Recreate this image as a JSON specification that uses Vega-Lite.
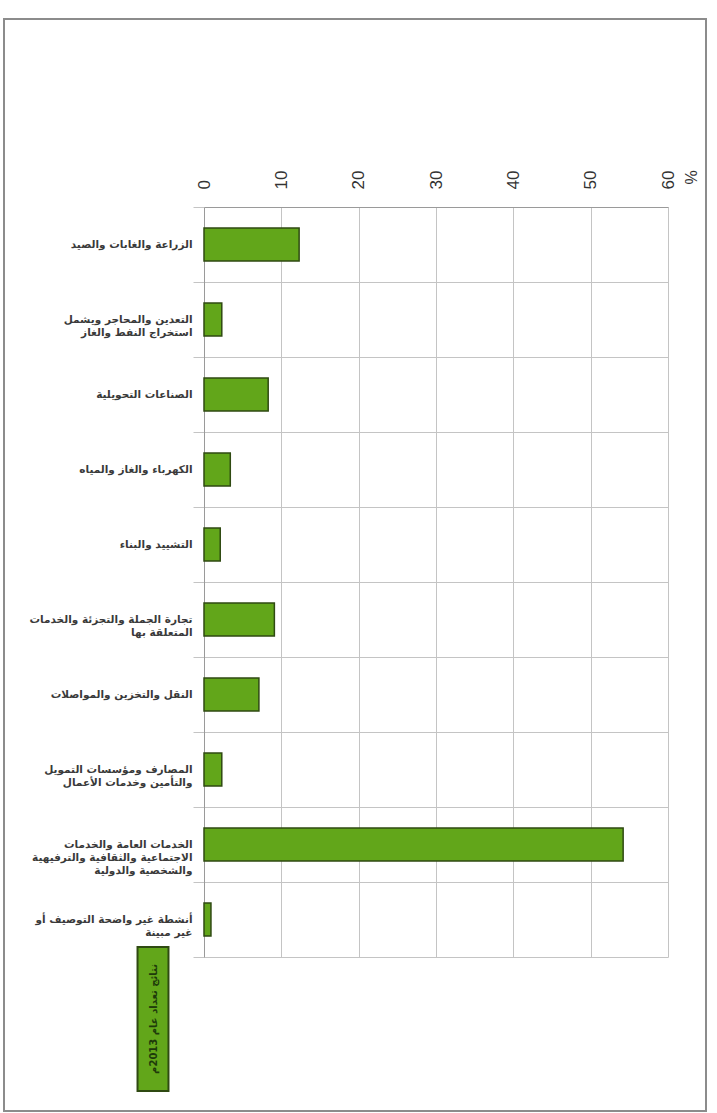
{
  "$schema": "https://vega.github.io/schema/vega-lite/v6.json",
  "width": 702,
  "height": 1092,
  "autosize": {"type": "none"},
  "padding": {"left": 4, "top": 19, "right": 11, "bottom": 2},
  "background": "white",
  "config": {"view": {"stroke": "#8c8c8c", "strokeWidth": 2}},
  "data": {
    "values": [
      {"sector": "الزراعة والغابات والصيد", "pct": 12.3, "series": "نتائج تعداد عام 2013م"},
      {"sector": "التعدين والمحاجر ويشمل|استخراج النفط والغاز", "pct": 2.3, "series": "نتائج تعداد عام 2013م"},
      {"sector": "الصناعات التحويلية", "pct": 8.3, "series": "نتائج تعداد عام 2013م"},
      {"sector": "الكهرباء والغاز والمياه", "pct": 3.4, "series": "نتائج تعداد عام 2013م"},
      {"sector": "التشييد والبناء", "pct": 2.1, "series": "نتائج تعداد عام 2013م"},
      {"sector": "تجارة الجملة والتجزئة والخدمات|المتعلقة بها", "pct": 9.1, "series": "نتائج تعداد عام 2013م"},
      {"sector": "النقل والتخزين والمواصلات", "pct": 7.1, "series": "نتائج تعداد عام 2013م"},
      {"sector": "المصارف ومؤسسات التمويل|والتأمين وخدمات الأعمال", "pct": 2.3, "series": "نتائج تعداد عام 2013م"},
      {"sector": "الخدمات العامة والخدمات|الاجتماعية والثقافية والترفيهية|والشخصية والدولية", "pct": 54.2, "series": "نتائج تعداد عام 2013م"},
      {"sector": "أنشطة غير واضحة التوصيف أو|غير مبينة", "pct": 0.9, "series": "نتائج تعداد عام 2013م"}
    ]
  },
  "mark": {"type": "bar", "stroke": "#2f4a12", "strokeWidth": 1.5, "height": {"band": 0.44}},
  "encoding": {
    "y": {
      "field": "sector",
      "type": "nominal",
      "sort": null,
      "scale": {"range": [188, 938], "paddingInner": 0, "paddingOuter": 0},
      "axis": {
        "title": null,
        "orient": "left",
        "offset": -200,
        "tickBand": "extent",
        "grid": true,
        "gridColor": "#c4c4c4",
        "ticks": true,
        "tickSize": 11,
        "tickColor": "#c4c4c4",
        "domain": true,
        "domainColor": "#9a9a9a",
        "labelExpr": "split(datum.label, '|')",
        "labelFont": "DejaVu Sans",
        "labelFontSize": 10.5,
        "labelFontWeight": "bold",
        "labelColor": "#3a3a3a",
        "labelPadding": 1,
        "labelLineHeight": 13,
        "labelLimit": 220
      }
    },
    "x": {
      "field": "pct",
      "type": "quantitative",
      "scale": {"domain": [0, 60], "range": [200, 664], "nice": false},
      "axis": {
        "orient": "top",
        "offset": -188,
        "values": [0, 10, 20, 30, 40, 50, 60],
        "grid": true,
        "gridColor": "#c4c4c4",
        "ticks": false,
        "domain": true,
        "domainColor": "#9a9a9a",
        "labelAngle": 270,
        "labelFont": "Liberation Sans",
        "labelFontSize": 17,
        "labelColor": "#333333",
        "labelPadding": 18,
        "labelFlush": false,
        "title": "%",
        "titleAngle": 270,
        "titleX": 687,
        "titleY": -30,
        "titleAlign": "center",
        "titleBaseline": "middle",
        "titleFont": "Liberation Sans",
        "titleFontSize": 16,
        "titleFontWeight": "normal",
        "titleColor": "#333333"
      }
    },
    "color": {
      "field": "series",
      "type": "nominal",
      "scale": {"range": ["#62a61a"]},
      "legend": {
        "orient": "none",
        "legendX": 76,
        "legendY": 927,
        "title": null,
        "padding": 0,
        "symbolType": "M-0.215,-1H0.215V1H-0.215Z",
        "symbolSize": 20736,
        "symbolStrokeColor": "#2f4a12",
        "symbolStrokeWidth": 2,
        "symbolOpacity": 1,
        "labelOffset": -72,
        "labelAlign": "center",
        "labelBaseline": "middle",
        "labelFont": "DejaVu Sans",
        "labelFontSize": 10,
        "labelFontWeight": "bold",
        "labelColor": "#1e3a0a",
        "encode": {"labels": {"update": {"angle": {"value": 270}}}}
      }
    }
  }
}
